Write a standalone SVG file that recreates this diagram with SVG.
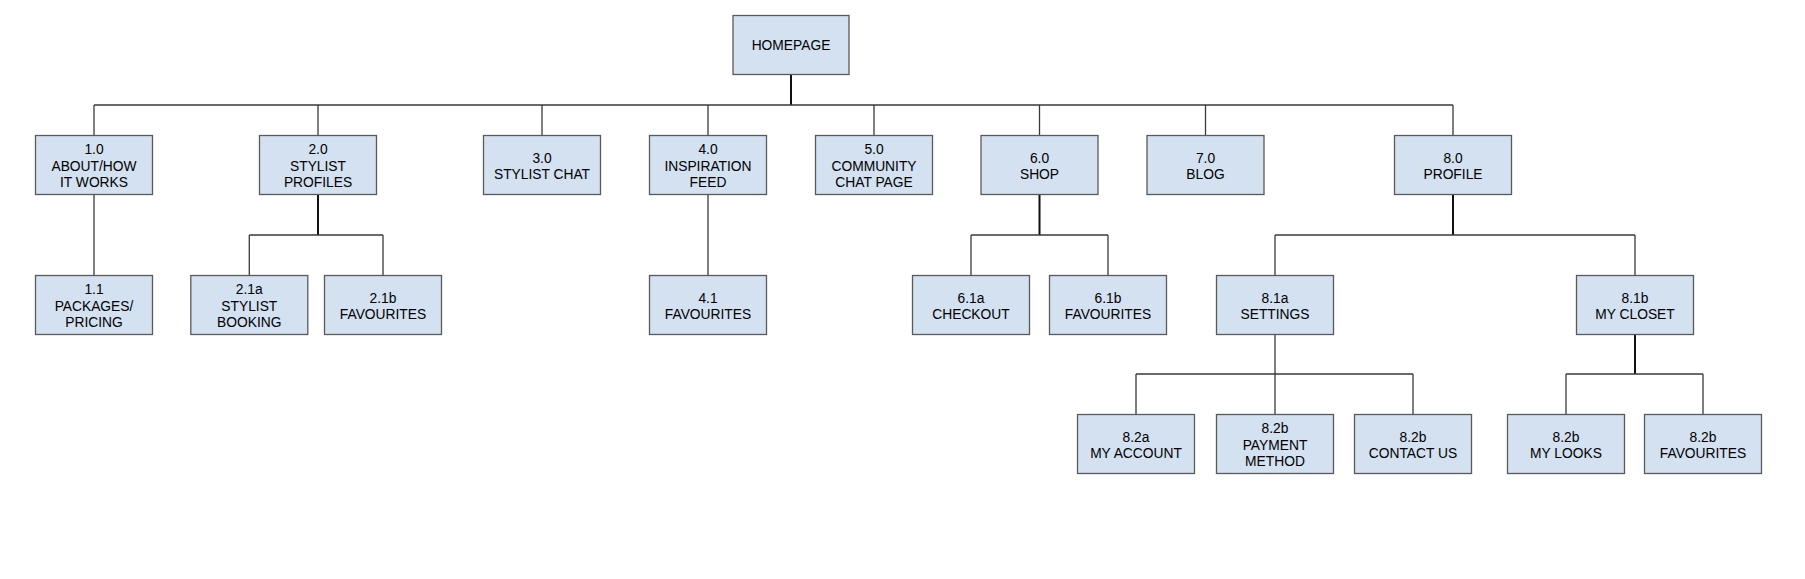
<svg xmlns="http://www.w3.org/2000/svg" width="1805" height="579" viewBox="0 0 1805 579">
<style>
.box{fill:#d3e1f1;stroke:#5a5a5a;stroke-width:1.3}
.t{font-family:"Liberation Sans",Arial,sans-serif;font-size:13.8px;fill:#000;text-anchor:middle}
.ln{stroke:#3a3a3a;stroke-width:1.3;fill:none}
.bk{stroke:#111;stroke-width:2;fill:none}
</style>
<rect width="1805" height="579" fill="#fff"/>
<g id="connectors">
<path class="bk" d="M791,74.5V105"/>
<path class="ln" d="M94,105H1453M94,105V135.5M318,105V135.5M542,105V135.5M708,105V135.5M874,105V135.5M1039.5,105V135.5M1205.5,105V135.5M1453,105V135.5"/>
<path class="ln" d="M94,194.5V275.5M708,194.5V275.5"/>
<path class="bk" d="M318,194.5V235M1039.5,194.5V235M1453,194.5V235"/>
<path class="ln" d="M249.3,235H383M249.3,235V275.5M383,235V275.5"/>
<path class="ln" d="M971,235H1108M971,235V275.5M1108,235V275.5"/>
<path class="ln" d="M1275,235H1635M1275,235V275.5M1635,235V275.5"/>
<path class="ln" d="M1275,334V414.5M1136,374H1413M1136,374V414.5M1413,374V414.5"/>
<path class="bk" d="M1635,334V374"/>
<path class="ln" d="M1566,374H1703M1566,374V414.5M1703,374V414.5"/>
</g>
<g id="homepage"><rect class="box" x="733" y="15.5" width="116" height="59"/><text class="t" x="791" y="50">HOMEPAGE</text></g>
<g id="n1_0"><rect class="box" x="35.5" y="135.5" width="117" height="59"/><text class="t" x="94" y="154">1.0</text><text class="t" x="94" y="170.5">ABOUT/HOW</text><text class="t" x="94" y="187">IT WORKS</text></g>
<g id="n2_0"><rect class="box" x="259.5" y="135.5" width="117" height="59"/><text class="t" x="318" y="154">2.0</text><text class="t" x="318" y="170.5">STYLIST</text><text class="t" x="318" y="187">PROFILES</text></g>
<g id="n3_0"><rect class="box" x="483.5" y="135.5" width="117" height="59"/><text class="t" x="542" y="162.5">3.0</text><text class="t" x="542" y="179">STYLIST CHAT</text></g>
<g id="n4_0"><rect class="box" x="649.5" y="135.5" width="117" height="59"/><text class="t" x="708" y="154">4.0</text><text class="t" x="708" y="170.5">INSPIRATION</text><text class="t" x="708" y="187">FEED</text></g>
<g id="n5_0"><rect class="box" x="815.5" y="135.5" width="117" height="59"/><text class="t" x="874" y="154">5.0</text><text class="t" x="874" y="170.5">COMMUNITY</text><text class="t" x="874" y="187">CHAT PAGE</text></g>
<g id="n6_0"><rect class="box" x="981" y="135.5" width="117" height="59"/><text class="t" x="1039.5" y="162.5">6.0</text><text class="t" x="1039.5" y="179">SHOP</text></g>
<g id="n7_0"><rect class="box" x="1147" y="135.5" width="117" height="59"/><text class="t" x="1205.5" y="162.5">7.0</text><text class="t" x="1205.5" y="179">BLOG</text></g>
<g id="n8_0"><rect class="box" x="1394.5" y="135.5" width="117" height="59"/><text class="t" x="1453" y="162.5">8.0</text><text class="t" x="1453" y="179">PROFILE</text></g>
<g id="n1_1"><rect class="box" x="35.5" y="275.5" width="117" height="59"/><text class="t" x="94" y="294">1.1</text><text class="t" x="94" y="310.5">PACKAGES/</text><text class="t" x="94" y="327">PRICING</text></g>
<g id="n2_1a"><rect class="box" x="190.8" y="275.5" width="117" height="59"/><text class="t" x="249.3" y="294">2.1a</text><text class="t" x="249.3" y="310.5">STYLIST</text><text class="t" x="249.3" y="327">BOOKING</text></g>
<g id="n2_1b"><rect class="box" x="324.5" y="275.5" width="117" height="59"/><text class="t" x="383" y="302.5">2.1b</text><text class="t" x="383" y="319">FAVOURITES</text></g>
<g id="n4_1"><rect class="box" x="649.5" y="275.5" width="117" height="59"/><text class="t" x="708" y="302.5">4.1</text><text class="t" x="708" y="319">FAVOURITES</text></g>
<g id="n6_1a"><rect class="box" x="912.5" y="275.5" width="117" height="59"/><text class="t" x="971" y="302.5">6.1a</text><text class="t" x="971" y="319">CHECKOUT</text></g>
<g id="n6_1b"><rect class="box" x="1049.5" y="275.5" width="117" height="59"/><text class="t" x="1108" y="302.5">6.1b</text><text class="t" x="1108" y="319">FAVOURITES</text></g>
<g id="n8_1a"><rect class="box" x="1216.5" y="275.5" width="117" height="59"/><text class="t" x="1275" y="302.5">8.1a</text><text class="t" x="1275" y="319">SETTINGS</text></g>
<g id="n8_1b"><rect class="box" x="1576.5" y="275.5" width="117" height="59"/><text class="t" x="1635" y="302.5">8.1b</text><text class="t" x="1635" y="319">MY CLOSET</text></g>
<g id="n8_2a"><rect class="box" x="1077.5" y="414.5" width="117" height="59"/><text class="t" x="1136" y="441.5">8.2a</text><text class="t" x="1136" y="458">MY ACCOUNT</text></g>
<g id="n8_2b_payment"><rect class="box" x="1216.5" y="414.5" width="117" height="59"/><text class="t" x="1275" y="433">8.2b</text><text class="t" x="1275" y="449.5">PAYMENT</text><text class="t" x="1275" y="466">METHOD</text></g>
<g id="n8_2b_contact"><rect class="box" x="1354.5" y="414.5" width="117" height="59"/><text class="t" x="1413" y="441.5">8.2b</text><text class="t" x="1413" y="458">CONTACT US</text></g>
<g id="n8_2b_looks"><rect class="box" x="1507.5" y="414.5" width="117" height="59"/><text class="t" x="1566" y="441.5">8.2b</text><text class="t" x="1566" y="458">MY LOOKS</text></g>
<g id="n8_2b_favourites"><rect class="box" x="1644.5" y="414.5" width="117" height="59"/><text class="t" x="1703" y="441.5">8.2b</text><text class="t" x="1703" y="458">FAVOURITES</text></g>
</svg>
